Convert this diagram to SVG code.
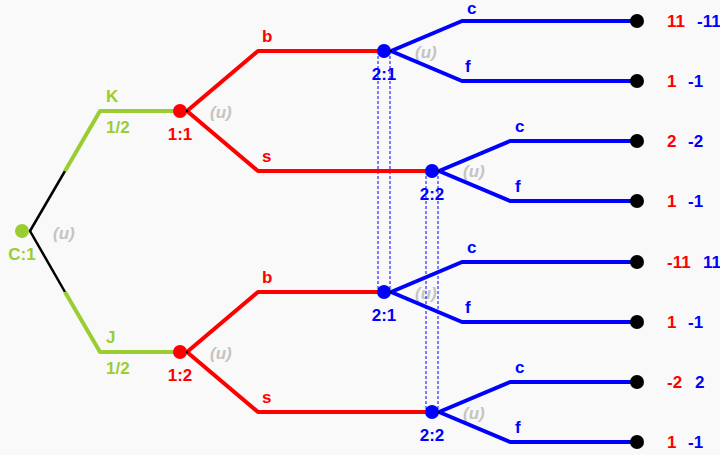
<svg xmlns="http://www.w3.org/2000/svg" width="720" height="455" viewBox="0 0 720 455">
  <style>
    text { font-family: "Liberation Sans", Arial, sans-serif; font-weight: bold; font-size: 17px; }
    .g { fill: #9acd32; }
    .r { fill: #ff0000; }
    .b { fill: #0000ff; }
    .u { fill: #c4c4c4; font-style: italic; }
    .mid { text-anchor: middle; }
    .eg { stroke: #9acd32; stroke-width: 4; fill: none; stroke-linejoin: round; }
    .ek { stroke: #000000; stroke-width: 2.5; fill: none; }
    .er { stroke: #ff0000; stroke-width: 4; fill: none; stroke-linejoin: round; }
    .eb { stroke: #0000ff; stroke-width: 4; fill: none; stroke-linejoin: round; }
    .info { stroke: #0000ff; stroke-width: 1; stroke-dasharray: 3 2; fill: none; }
    .pt { fill: #000000; }
  </style>
  <rect x="0" y="0" width="720" height="455" fill="#f9f9f9"/>

  <!-- uniform-move markers -->
  <g id="moves">
    <text class="u" x="53" y="239">(u)</text>
    <text class="u" x="210" y="118">(u)</text>
    <text class="u" x="210" y="359">(u)</text>
    <text class="u" x="415" y="58">(u)</text>
    <text class="u" x="463" y="177">(u)</text>
    <text class="u" x="415" y="299">(u)</text>
    <text class="u" x="463" y="419">(u)</text>
  </g>

  <!-- information sets -->
  <g id="infosets">
    <line class="info" x1="378" y1="51" x2="378" y2="292"/>
    <line class="info" x1="390" y1="51" x2="390" y2="292"/>
    <line class="info" x1="426" y1="171" x2="426" y2="412"/>
    <line class="info" x1="438" y1="171" x2="438" y2="412"/>
  </g>

  <g id="connectors">
    <!-- chance moves -->
    <line class="ek" x1="30" y1="231" x2="65" y2="171"/>
    <polyline class="eg" points="65,171 100,111 180,111"/>
    <line class="ek" x1="30" y1="231" x2="65" y2="292"/>
    <polyline class="eg" points="65,292 100,352 180,352"/>
    <!-- player 1 moves -->
    <polyline class="er" points="187,111 258,51 384,51"/>
    <polyline class="er" points="187,111 258,171 432,171"/>
    <polyline class="er" points="187,352 258,292 384,292"/>
    <polyline class="er" points="187,352 258,412 432,412"/>
    <!-- player 2 moves -->
    <polyline class="eb" points="391,51 462,21 637,21"/>
    <polyline class="eb" points="391,51 462,81 637,81"/>
    <polyline class="eb" points="439,171 510,141 637,141"/>
    <polyline class="eb" points="439,171 510,201 637,201"/>
    <polyline class="eb" points="391,292 462,262 637,262"/>
    <polyline class="eb" points="391,292 462,322 637,322"/>
    <polyline class="eb" points="439,412 510,382 637,382"/>
    <polyline class="eb" points="439,412 510,442 637,442"/>
  </g>

  <g id="move-labels">
    <text class="g" x="106" y="102">K</text>
    <text class="g" x="106" y="133">1/2</text>
    <text class="g" x="106" y="343">J</text>
    <text class="g" x="106" y="374">1/2</text>
    <text class="r" x="262" y="42">b</text>
    <text class="r" x="262" y="162">s</text>
    <text class="r" x="262" y="283">b</text>
    <text class="r" x="262" y="403">s</text>
    <text class="b" x="467" y="14">c</text>
    <text class="b" x="465" y="72">f</text>
    <text class="b" x="515" y="132">c</text>
    <text class="b" x="515" y="192">f</text>
    <text class="b" x="467" y="253">c</text>
    <text class="b" x="465" y="313">f</text>
    <text class="b" x="515" y="373">c</text>
    <text class="b" x="515" y="433">f</text>
  </g>

  <g id="node-C1">
    <circle cx="22" cy="231" r="7" fill="#9acd32"/>
    <circle cx="30" cy="231" r="1.2" class="pt"/>
    <text class="g mid" x="22" y="260">C:1</text>
  </g>
  <g id="node-1-1">
    <circle cx="180" cy="111" r="7" fill="#ff0000"/>
    <circle cx="187" cy="111" r="1.2" class="pt"/>
    <text class="r mid" x="180" y="140">1:1</text>
  </g>
  <g id="node-1-2">
    <circle cx="180" cy="352" r="7" fill="#ff0000"/>
    <circle cx="187" cy="352" r="1.2" class="pt"/>
    <text class="r mid" x="180" y="381">1:2</text>
  </g>
  <g id="node-2-1a">
    <circle cx="384" cy="51" r="7" fill="#0000ff"/>
    <circle cx="391" cy="51" r="1.2" class="pt"/>
    <text class="b mid" x="384" y="80">2:1</text>
  </g>
  <g id="node-2-2a">
    <circle cx="432" cy="171" r="7" fill="#0000ff"/>
    <circle cx="439" cy="171" r="1.2" class="pt"/>
    <text class="b mid" x="432" y="200">2:2</text>
  </g>
  <g id="node-2-1b">
    <circle cx="384" cy="292" r="7" fill="#0000ff"/>
    <circle cx="391" cy="292" r="1.2" class="pt"/>
    <text class="b mid" x="384" y="321">2:1</text>
  </g>
  <g id="node-2-2b">
    <circle cx="432" cy="412" r="7" fill="#0000ff"/>
    <circle cx="439" cy="412" r="1.2" class="pt"/>
    <text class="b mid" x="432" y="441">2:2</text>
  </g>

  <!-- terminal nodes with payoffs -->
  <g id="leaf-1"><circle cx="637" cy="21" r="7" class="pt"/><text class="r" x="667" y="27">11</text><text class="b" x="697" y="27">-11</text></g>
  <g id="leaf-2"><circle cx="637" cy="81" r="7" class="pt"/><text class="r" x="667" y="87">1</text><text class="b" x="688" y="87">-1</text></g>
  <g id="leaf-3"><circle cx="637" cy="141" r="7" class="pt"/><text class="r" x="667" y="147">2</text><text class="b" x="688" y="147">-2</text></g>
  <g id="leaf-4"><circle cx="637" cy="201" r="7" class="pt"/><text class="r" x="667" y="207">1</text><text class="b" x="688" y="207">-1</text></g>
  <g id="leaf-5"><circle cx="637" cy="262" r="7" class="pt"/><text class="r" x="667" y="268">-11</text><text class="b" x="703" y="268">11</text></g>
  <g id="leaf-6"><circle cx="637" cy="322" r="7" class="pt"/><text class="r" x="667" y="328">1</text><text class="b" x="688" y="328">-1</text></g>
  <g id="leaf-7"><circle cx="637" cy="382" r="7" class="pt"/><text class="r" x="667" y="388">-2</text><text class="b" x="695" y="388">2</text></g>
  <g id="leaf-8"><circle cx="637" cy="442" r="7" class="pt"/><text class="r" x="667" y="448">1</text><text class="b" x="688" y="448">-1</text></g>
</svg>
